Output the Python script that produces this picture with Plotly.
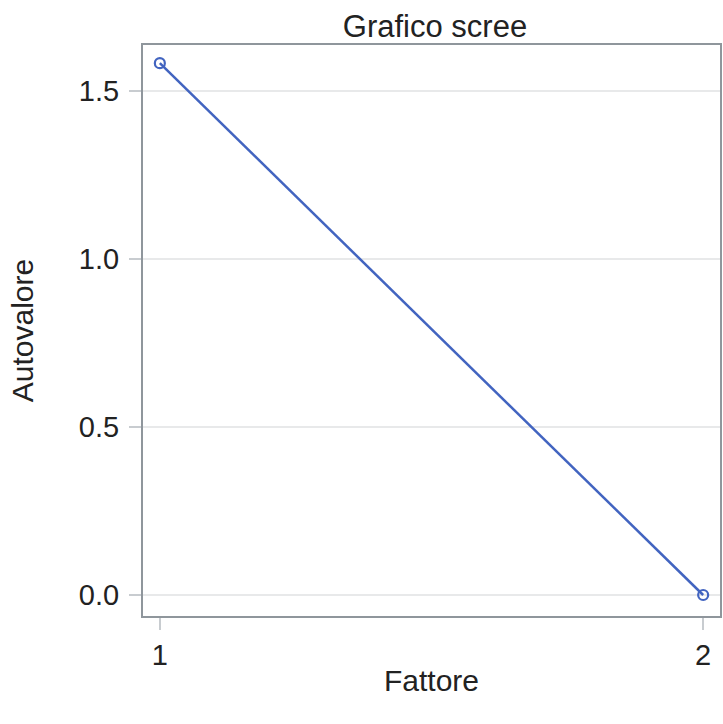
import plotly.graph_objects as go

fattore = [1, 2]
autovalore = [1.582, 0.0]
y_ticks = [0.0, 0.5, 1.0, 1.5]
y_tick_labels = ["0.0", "0.5", "1.0", "1.5"]
x_ticks = [1, 2]
x_tick_labels = ["1", "2"]

FONT = "Liberation Sans, Arial, sans-serif"
TXT = "#222222"
AXIS = "#8f969c"

W, H = 723, 724

fig = go.Figure()
fig.add_trace(go.Scatter(
    x=fattore, y=autovalore, mode="lines+markers",
    line=dict(color="#4264c0", width=2.5),
    marker=dict(symbol="circle-open", size=10, color="#4264c0", line=dict(width=2.2)),
    showlegend=False,
))

fig.update_layout(
    width=W, height=H,
    margin=dict(l=143, r=1, t=45, b=108),
    paper_bgcolor="white", plot_bgcolor="white",
    font=dict(family=FONT, color=TXT, size=29),
    title=dict(text="Grafico scree", x=435 / W, xanchor="center",
               y=1 - 26 / H, yanchor="middle", yref="container",
               font=dict(size=31, color=TXT, family=FONT)),
    xaxis=dict(
        range=[0.969, 2.031], tickmode="array", tickvals=x_ticks, ticktext=x_tick_labels,
        showgrid=False, zeroline=False, showline=True, linecolor=AXIS, linewidth=2,
        mirror=True, ticks="outside", ticklen=12, tickwidth=2, tickcolor="#c8ccd0",
        ticklabelstandoff=0,
        title=dict(text="Fattore", standoff=0, font=dict(size=30)),
        tickfont=dict(size=29),
    ),
    yaxis=dict(
        range=[-0.0625, 1.636], tickmode="array", tickvals=y_ticks, ticktext=y_tick_labels,
        showgrid=True, gridcolor="#e8e9ea", gridwidth=2, zeroline=False,
        showline=True, linecolor=AXIS, linewidth=2, mirror=True,
        ticks="outside", ticklen=12, tickwidth=2, tickcolor="#c8ccd0",
        ticklabelstandoff=4,
        title=dict(text="Autovalore", standoff=36, font=dict(size=30)),
        tickfont=dict(size=29),
    ),
)

fig.write_html(
    "out.html",
    config={"displayModeBar": False},
    post_script="document.body.style.margin='0';document.body.style.overflow='hidden';",
)
